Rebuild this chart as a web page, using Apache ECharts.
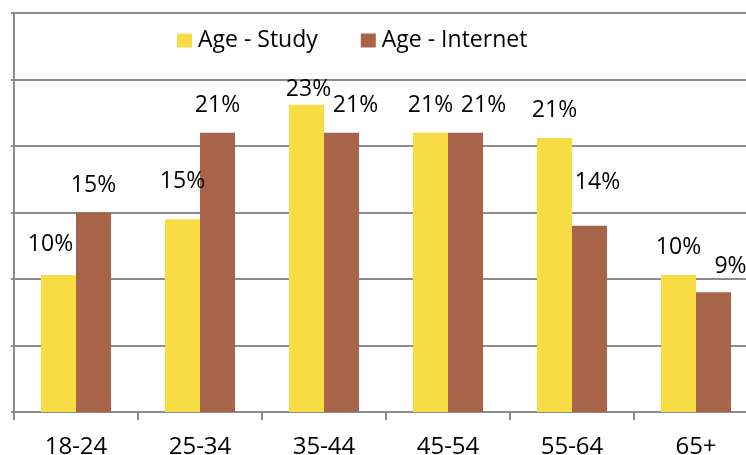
<!DOCTYPE html>
<html>
<head>
<meta charset="utf-8">
<style>
  html, body { margin: 0; padding: 0; background: #fff; }
  #chart { width: 746px; height: 455px; }
</style>
<script src="https://cdn.jsdelivr.net/npm/echarts@6/dist/echarts.min.js"></script>
</head>
<body>
<div id="chart"></div>
<script>
// ---- data ----
const categories = ['18-24', '25-34', '35-44', '45-54', '55-64', '65+'];
const seriesNames = ['Age - Study', 'Age - Internet'];
const studyValues = [10.3, 14.5, 23.1, 21.0, 20.6, 10.3];
const internetValues = [15.0, 21.0, 21.0, 21.0, 14.0, 9.0];

// ---- label nudges (style only) ----
const studyLabelShift = [[-8, -3], [0, -10], [2, 12], [0, 0], [0, 0], [0, 0]];
const internetLabelShift = [[0, 0], [0, 0], [14, 0], [18, 0], [8, -16], [17, 2]];

const FONT = 'Open Sans';
const GRID_COLOR = '#8c8c8c';

function buildData(values, shifts) {
  return values.map((v, i) => ({ value: v, label: { offset: shifts[i] } }));
}

const labelStyle = {
  show: true,
  position: 'top',
  distance: 16,
  color: '#000',
  fontFamily: FONT,
  fontSize: 23,
  formatter: p => Math.round(p.value) + '%'
};

const chart = echarts.init(document.getElementById('chart'), null, { renderer: 'canvas' });
chart.setOption({
  animation: false,
  backgroundColor: '#fff',
  legend: {
    left: 177,
    top: 29,
    padding: 0,
    itemWidth: 15,
    itemHeight: 14,
    itemGap: 43,
    icon: 'rect',
    textStyle: { fontFamily: FONT, fontSize: 23, color: '#000', padding: [0, 0, 0, 1] },
    data: seriesNames
  },
  grid: { left: 14, top: 13, width: 744, height: 399, containLabel: false, outerBoundsMode: 'none' },
  xAxis: {
    type: 'category',
    data: categories,
    axisLine: { lineStyle: { color: GRID_COLOR, width: 2 } },
    axisTick: { show: true, length: 8, lineStyle: { color: GRID_COLOR, width: 2 } },
    axisLabel: { margin: 23, color: '#000', fontFamily: FONT, fontSize: 24 }
  },
  yAxis: {
    type: 'value',
    min: 0,
    max: 30,
    interval: 5,
    axisLine: { show: true, lineStyle: { color: GRID_COLOR, width: 2 } },
    axisTick: { show: true, length: 3, lineStyle: { color: GRID_COLOR, width: 2 } },
    axisLabel: { show: false },
    splitLine: { show: true, lineStyle: { color: GRID_COLOR, width: 2 } }
  },
  series: [
    {
      name: seriesNames[0],
      type: 'bar',
      data: buildData(studyValues, studyLabelShift),
      itemStyle: { color: '#F7DC43' },
      barGap: '0%',
      barCategoryGap: '43.5%',
      label: labelStyle
    },
    {
      name: seriesNames[1],
      type: 'bar',
      data: buildData(internetValues, internetLabelShift),
      itemStyle: { color: '#A86448' },
      barGap: '0%',
      barCategoryGap: '43.5%',
      label: labelStyle
    }
  ]
});
</script>
</body>
</html>
